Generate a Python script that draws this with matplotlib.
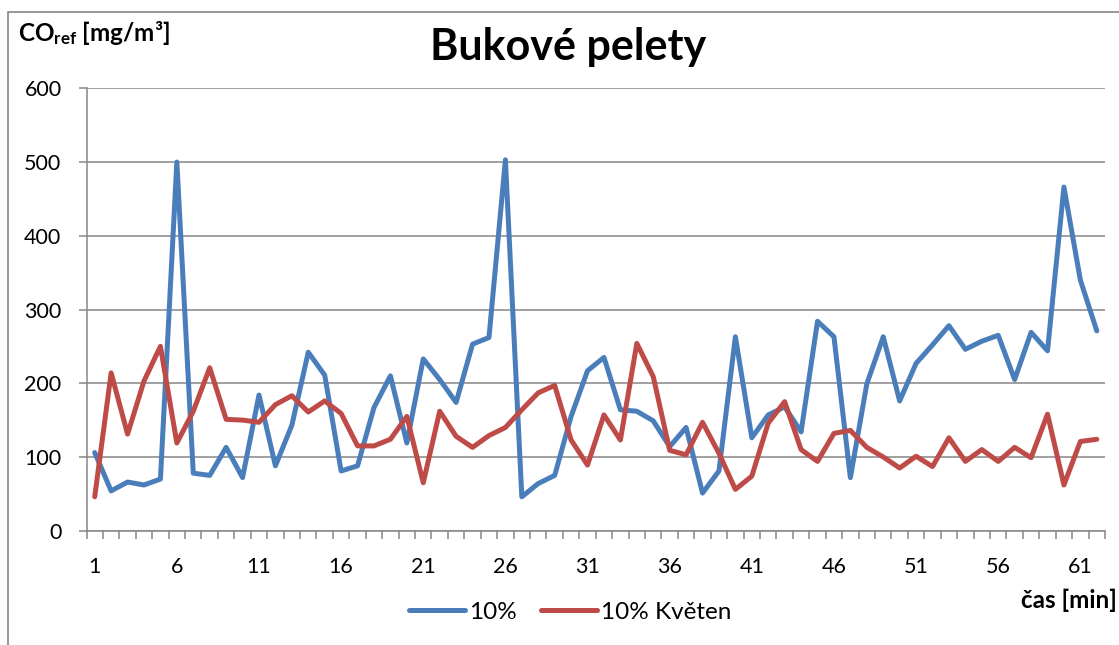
import numpy as np
import matplotlib
matplotlib.use("Agg")
import matplotlib.pyplot as plt
from matplotlib.patches import Rectangle

plt.rcParams['font.family'] = ['Lato', 'DejaVu Sans']
plt.rcParams['mathtext.fontset'] = 'custom'
plt.rcParams['mathtext.rm'] = 'Lato'
plt.rcParams['mathtext.bf'] = 'Lato:bold'

minutes = list(range(1, 63))
co_10 = [106, 54, 66, 62, 70, 500, 78, 75, 113, 72,
         184, 88, 143, 242, 211, 81, 88, 167, 210, 119,
         233, 205, 174, 253, 262, 503, 46, 64, 75, 155,
         217, 235, 164, 162, 149, 114, 140, 51, 81, 263,
         126, 157, 168, 134, 284, 263, 72, 199, 263, 176,
         227, 252, 278, 246, 257, 265, 205, 269, 244, 466,
         340, 271]
co_10_kveten = [46, 214, 131, 203, 250, 119, 162, 221, 151, 150,
                147, 171, 183, 161, 176, 159, 115, 115, 124, 155,
                65, 162, 128, 113, 129, 140, 164, 187, 197, 123,
                89, 157, 123, 254, 209, 109, 103, 147, 105, 56,
                74, 146, 175, 110, 94, 132, 136, 113, 100, 85,
                101, 87, 126, 94, 110, 94, 113, 99, 158, 62,
                121, 124]
series_names = ['10%', '10% Květen']
yticks = [0, 100, 200, 300, 400, 500, 600]
xtick_labels = [1, 6, 11, 16, 21, 26, 31, 36, 41, 46, 51, 56, 61]

W, H = 1119, 645
fig = plt.figure(figsize=(W / 100, H / 100), dpi=100)
ax = fig.add_axes([86.5 / W, 1 - 530.7 / H, (1105 - 86.5) / W, (530.7 - 88.3) / H])

# outer chart border (only left/top edges visible in the crop)
fig.patches.append(Rectangle((8 / W, -0.1), 1.2, 1 - 12 / H + 0.1, transform=fig.transFigure,
                             fill=False, edgecolor='#868686', linewidth=1.2))

grey = '#868686'
blue = '#4A7EBB'
red = '#BE4B48'

ax.plot(minutes, co_10, color=blue, lw=3.6, solid_joinstyle='round', solid_capstyle='round',
        label=series_names[0], zorder=3)
ax.plot(minutes, co_10_kveten, color=red, lw=3.6, solid_joinstyle='round', solid_capstyle='round',
        label=series_names[1], zorder=3)

ax.set_xlim(0.5, len(minutes) + 0.5)
ax.set_ylim(0, 600)
ax.set_yticks(yticks)
ax.set_xticks(xtick_labels)
ax.set_xticklabels([str(v) for v in xtick_labels])
ax.set_xticks(np.arange(0.5, len(minutes) + 1, 1), minor=True)
ax.grid(axis='y', color=grey, lw=1.1, zorder=0)
ax.set_axisbelow(True)

for s in ['top', 'right']:
    ax.spines[s].set_visible(False)
for s in ['left', 'bottom']:
    ax.spines[s].set_color(grey)
    ax.spines[s].set_linewidth(1.1)

ax.tick_params(axis='y', length=6, width=1.1, color=grey, pad=12, labelsize=15.5)
ax.tick_params(axis='x', which='major', length=0, pad=19, labelsize=15.5)
ax.tick_params(axis='x', which='minor', length=6, width=1.1, color=grey)

fig.text(568 / W, 1 - 47 / H, 'Bukové pelety', ha='center', va='center',
         fontsize=31, fontweight='bold')
fig.text(18 / W, 1 - 41 / H, r'$\mathbf{CO_{ref}}$ [mg/m³]', ha='left', va='baseline',
         fontsize=17.5, fontweight='bold')
fig.text(1117 / W, 1 - 600 / H, 'čas [min]', ha='right', va='center',
         fontsize=17.5, fontweight='bold')

fig.legend(loc='center', bbox_to_anchor=(570 / W, 1 - 612 / H), ncol=2, frameon=False,
           fontsize=17.5, handlelength=2.3, handletextpad=0.16, columnspacing=1.0)

fig.savefig('out.png', dpi=100)
